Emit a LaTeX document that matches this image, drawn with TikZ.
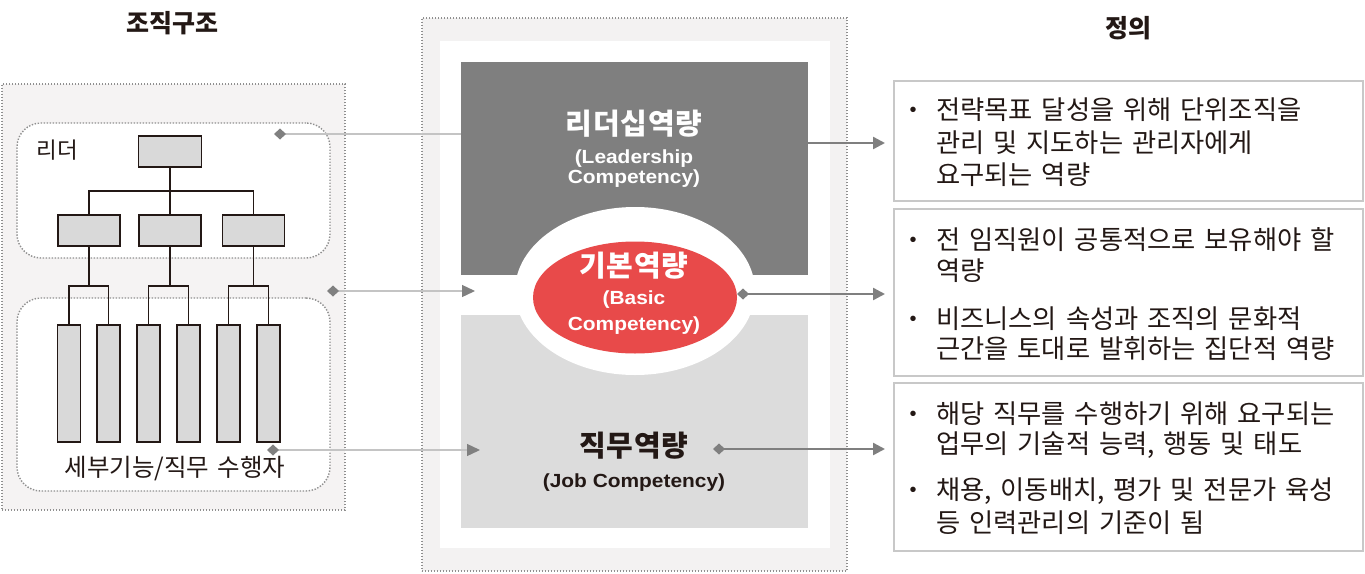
\documentclass[tikz,border=0pt]{standalone}
\usepackage{fontspec}
\setmainfont{Liberation Sans}
\newfontfamily\kr{Noto Sans CJK KR}
\newfontfamily\krw[WordSpace=1.5]{Noto Sans CJK KR}
\newfontfamily\krt[LetterSpace=3]{Noto Sans CJK KR}
\newfontfamily\enb[FakeStretch=1.1]{Liberation Sans Bold}
\usetikzlibrary{arrows.meta,shapes.geometric}
\definecolor{ink}{HTML}{231815}
\definecolor{leftbg}{HTML}{F5F3F3}
\definecolor{centerbg}{HTML}{F3F2F2}
\definecolor{dbox}{HTML}{7F7F7F}
\definecolor{lbox}{HTML}{DCDCDC}
\definecolor{redell}{HTML}{E84A4A}
\definecolor{orgfill}{HTML}{D9D9D9}
\definecolor{dotgray}{HTML}{8F8F8F}
\definecolor{lgray}{HTML}{C4C4C4}
\definecolor{mgray}{HTML}{808080}
\definecolor{dgray}{HTML}{7F7F7F}
\definecolor{framegray}{HTML}{C8C8C8}
\begin{document}
\begin{tikzpicture}[x=1pt,y=-1pt,
  dotframe/.style={draw=dotgray, line width=1.4pt, dash pattern=on 1.4pt off 1.6pt},
  plainbox/.style={inner sep=0, outer sep=0},
  orgbox/.style={draw=ink, fill=orgfill, line width=1.8pt, inner sep=0, outer sep=0},
  orgline/.style={draw=ink, line width=1.8pt},
  defbox/.style={draw=framegray, fill=white, line width=2pt, inner sep=0, outer sep=0, minimum width=469},
  lconnA/.style={draw=lgray, line width=1.3pt, {Diamond[length=12pt,width=11pt,color=mgray]}-},
  lconn/.style={draw=lgray, line width=1.3pt, {Diamond[length=12pt,width=11pt,color=mgray]}-{Triangle[length=13pt,width=12pt,color=mgray]}},
  rconn/.style={draw=dgray, line width=2.4pt, -{Triangle[length=12pt,width=12pt]}},
  rconnD/.style={draw=dgray, line width=2.4pt, {Diamond[length=12pt,width=11pt]}-{Triangle[length=12pt,width=12pt]}},
  kt/.style={font=\krw\fontsize{26.3}{30}\selectfont, text=ink, inner sep=0, anchor=base west},
  bul/.style={font=\fontsize{20}{24}\selectfont, text=ink, inner sep=0, anchor=base},
  head/.style={font=\kr\bfseries\fontsize{25}{28}\selectfont, text=ink, inner sep=0, anchor=base},
  ctit/.style={font=\krt\bfseries\fontsize{29}{32}\selectfont, inner sep=0, anchor=base},
  cen/.style={font=\enb\fontsize{19}{22}\selectfont, inner sep=0, anchor=base},
  lbl/.style={font=\kr\fontsize{24.5}{28}\selectfont, text=ink, inner sep=0, anchor=base}
]
\useasboundingbox (0,0) rectangle (1365,573);
\fill[white] (0,0) rectangle (1365,573);

% ---------- left panel ----------
\node[plainbox, dotframe, fill=leftbg, minimum width=343, minimum height=426] (orgpanel) at (173.5,297) {};
\node[plainbox, dotframe, fill=white, rounded corners=24, minimum width=313, minimum height=135] (leadgrp) at (173.5,190.5) {};
\node[plainbox, dotframe, fill=white, rounded corners=24, minimum width=313, minimum height=193] (workgrp) at (173.5,394.5) {};

% org chart
\node[orgbox, minimum width=63, minimum height=31] (top) at (170,151.5) {};
\node[orgbox, minimum width=62, minimum height=31] (m1) at (89,230.5) {};
\node[orgbox, minimum width=62, minimum height=31] (m2) at (170,230.5) {};
\node[orgbox, minimum width=62, minimum height=31] (m3) at (253.5,230.5) {};
\foreach \i/\x in {1/69,2/108.5,3/148.5,4/188.5,5/228.5,6/268.5}
  \node[orgbox, minimum width=23, minimum height=117] (b\i) at (\x,383.5) {};
\draw[orgline] (top.south) -- (m2.north);
\draw[orgline] (m1.north) |- (m3.north |- 0,191) -- (m3.north);
\draw[orgline] (b1.north) |- (b2.north |- 0,286) -- (b2.north);
\draw[orgline] (b3.north) |- (b4.north |- 0,286) -- (b4.north);
\draw[orgline] (b5.north) |- (b6.north |- 0,286) -- (b6.north);
\draw[orgline] (m1.south) -- (m1.south |- 0,286);
\draw[orgline] (m2.south) -- (m2.south |- 0,286);
\draw[orgline] (m3.south) -- (m3.south |- 0,286);

\node[lbl, font=\kr\fontsize{22.5}{26}\selectfont] (tleader) at (57,158) {리더};
\node[lbl] (tworker) at (175,476) {세부기능/직무 수행자};
\node[head] (hleft) at (172,32) {조직구조};

% ---------- center panel ----------
\node[plainbox, dotframe, fill=centerbg, minimum width=425, minimum height=553] (outer) at (634.5,294.5) {};
\node[plainbox, fill=white, minimum width=390, minimum height=507] (inner) at (635,294.5) {};
\node[plainbox, fill=dbox, minimum width=347, minimum height=213] (lead) at (634.5,168.5) {};
\node[plainbox, fill=lbox, minimum width=347, minimum height=213] (job) at (634.5,421.5) {};
\node[plainbox, ellipse, fill=white, minimum width=240, minimum height=168] (basicring) at (635,291) {};
\node[plainbox, ellipse, fill=redell, minimum width=204, minimum height=112] (basic) at (635,297.5) {};

\node[ctit, text=white] (tlead) at (634,134) {리더십역량};
\node[cen, text=white] (tlead2) at (634,163) {(Leadership};
\node[cen, text=white] (tlead3) at (634,183) {Competency)};
\node[ctit, text=white] (tbasic) at (634,276) {기본역량};
\node[cen, text=white] (tbasic2) at (634,304) {(Basic};
\node[cen, text=white] (tbasic3) at (634,330) {Competency)};
\node[ctit, text=ink] (tjob) at (634,456) {직무역량};
\node[cen, text=ink] (tjob2) at (634,487) {(Job Competency)};

% ---------- right panel ----------
\node[head] (hright) at (1128,37) {정의};
\node[defbox, minimum height=120] (def1) at (1128.5,141) {};
\node[defbox, minimum height=167] (def2) at (1128.5,292.5) {};
\node[defbox, minimum height=168] (def3) at (1128.5,467) {};

\node[bul] (u1) at (913,116) {•};
\node[kt] (d11) at (936,119) {전략목표 달성을 위해 단위조직을};
\node[kt] (d12) at (936,152) {관리 및 지도하는 관리자에게};
\node[kt] (d13) at (936,184) {요구되는 역량};

\node[bul] (u2) at (913,246) {•};
\node[kt] (d21) at (936,249) {전 임직원이 공통적으로 보유해야 할};
\node[kt] (d22) at (936,280) {역량};
\node[bul] (u3) at (913,325) {•};
\node[kt] (d23) at (936,328) {비즈니스의 속성과 조직의 문화적};
\node[kt] (d24) at (936,358) {근간을 토대로 발휘하는 집단적 역량};

\node[bul] (u4) at (913,420) {•};
\node[kt] (d31) at (936,423) {해당 직무를 수행하기 위해 요구되는};
\node[kt] (d32) at (936,453) {업무의 기술적 능력, 행동 및 태도};
\node[bul] (u5) at (913,496) {•};
\node[kt] (d33) at (936,499) {채용, 이동배치, 평가 및 전문가 육성};
\node[kt] (d34) at (936,532) {등 인력관리의 기준이 됨};

% ---------- connectors ----------
\coordinate (a1) at (274,134);
\draw[lconnA] (a1) -- (a1 -| lead.west);
\coordinate (a2s) at (327,291);
\coordinate (a2e) at (475,291);
\draw[lconn] (a2s) -- (a2e);
\coordinate (a3s) at (267,450);
\coordinate (a3e) at (480,450);
\draw[lconn] (a3s) -- (a3e);

\coordinate (e1) at (885,143);
\coordinate (e2) at (885,294);
\coordinate (e3) at (885,449);
\draw[rconn] (lead.east |- e1) -- (e1);
\draw[rconnD] (basic.east |- e2) -- (e2);
\coordinate (j3) at (713,449);
\draw[rconnD] (j3) -- (e3);
\end{tikzpicture}
\end{document}
